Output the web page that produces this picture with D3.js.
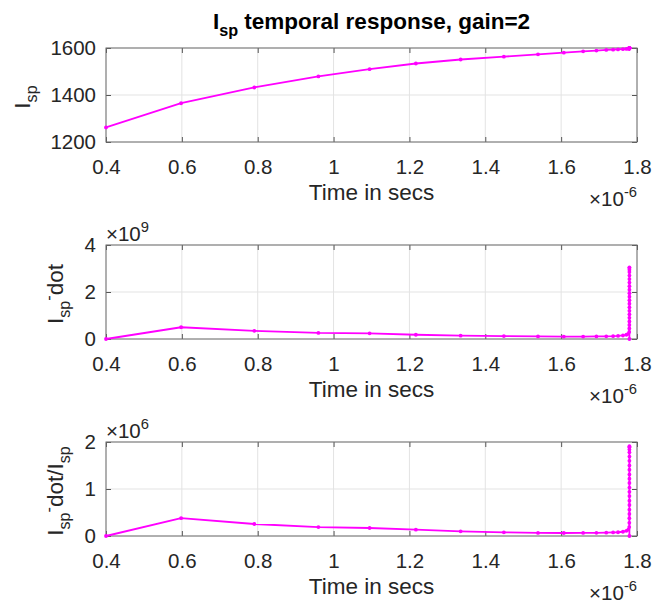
<!DOCTYPE html>
<html>
<head>
<meta charset="utf-8">
<script src="https://cdn.jsdelivr.net/npm/d3@7"></script>
<style>
body { margin: 0; background: #fff; }
svg { font-family: "Liberation Sans", Arial, Helvetica, sans-serif; }
</style>
</head>
<body>
<svg width="654" height="604"></svg>
<script>
'use strict';

//Time samples (seconds)
var timeSecs = [0.400e-6, 0.598e-6, 0.791e-6, 0.960e-6, 1.095e-6, 1.217e-6, 1.335e-6, 1.449e-6,
  1.539e-6, 1.607e-6, 1.658e-6, 1.693e-6, 1.719e-6, 1.737e-6, 1.750e-6, 1.763e-6, 1.772e-6, 1.777e-6,
  1.7795e-6, 1.7797e-6, 1.7798e-6, 1.7799e-6, 1.7799e-6, 1.7800e-6, 1.7800e-6, 1.7800e-6, 1.7800e-6,
  1.7800e-6, 1.7800e-6, 1.7800e-6, 1.7800e-6, 1.7800e-6, 1.7800e-6, 1.7800e-6, 1.7800e-6, 1.7800e-6,
  1.7800e-6, 1.7800e-6, 1.7800e-6, 1.7800e-6];

//Isp
var ispValues = [1262, 1365, 1432, 1479, 1510, 1534, 1551, 1563,
  1573, 1580, 1586, 1589, 1592, 1593, 1594, 1595, 1596, 1597,
  1597.5, 1597.7, 1597.9, 1598.0, 1598.2, 1598.3, 1598.5, 1598.6, 1598.8,
  1598.9, 1599.0, 1599.1, 1599.2, 1599.3, 1599.4, 1599.5, 1599.6, 1599.7,
  1599.8, 1599.9, 1600.0, 1600.0];

//Isp_dot
var ispDotValues = [0.00e9, 0.50e9, 0.35e9, 0.26e9, 0.24e9, 0.18e9, 0.14e9, 0.125e9,
  0.11e9, 0.105e9, 0.105e9, 0.11e9, 0.115e9, 0.12e9, 0.13e9, 0.15e9, 0.18e9, 0.22e9,
  0.30e9, 0.45e9, 0.60e9, 0.75e9, 0.90e9, 1.05e9, 1.20e9, 1.35e9, 1.50e9,
  1.65e9, 1.80e9, 1.95e9, 2.10e9, 2.25e9, 2.40e9, 2.55e9, 2.70e9, 2.85e9,
  2.95e9, 3.02e9, 3.05e9, 0.00e9];

//Isp_dot / Isp
var ispRatioValues = [0.000e6, 0.380e6, 0.255e6, 0.190e6, 0.170e6, 0.134e6, 0.100e6, 0.078e6,
  0.065e6, 0.064e6, 0.066e6, 0.068e6, 0.071e6, 0.075e6, 0.080e6, 0.090e6, 0.110e6, 0.135e6,
  0.19e6, 0.28e6, 0.38e6, 0.47e6, 0.56e6, 0.66e6, 0.75e6, 0.85e6, 0.94e6,
  1.03e6, 1.13e6, 1.22e6, 1.31e6, 1.41e6, 1.50e6, 1.60e6, 1.69e6, 1.78e6,
  1.84e6, 1.89e6, 1.91e6, 0.00e6];

//Ticks
var timeTicks = [0.4e-6, 0.6e-6, 0.8e-6, 1.0e-6, 1.2e-6, 1.4e-6, 1.6e-6, 1.8e-6];
var ispTicks = [1200, 1400, 1600];
var ispDotTicks = [0, 2e9, 4e9];
var ispRatioTicks = [0, 1e6, 2e6];

var svg = d3.select('svg');
var lineColor = '#ff00ff';
var textColor = '#262626';

var plotLeft = 106;
var plotRight = 637;
var plotHeight = 94;

var x = d3.scaleLinear().domain([0.4e-6, 1.8e-6]).range([plotLeft, plotRight]);

//Write text with sub / superscripts as tspans
function richText(textSel, parts, size) {
  var shift = 0;
  parts.forEach(function (p) {
    var target = p.sub ? size * 0.32 : p.sup ? -size * 0.42 : 0;
    textSel.append('tspan')
      .attr('dy', target - shift)
      .style('font-size', (p.sub || p.sup ? size * 0.72 : size) + 'px')
      .text(p.t);
    shift = target;
  });
}

function timeFormat(d) {
  return d3.format('~g')(+(d * 1e6).toFixed(3));
}

//Draw one subplot
function drawPanel(cfg) {
  var top = cfg.top;
  var bottom = top + plotHeight;
  var g = svg.append('g');

  var y = d3.scaleLinear().domain(cfg.yDomain).range([bottom, top]);

  //Grid
  g.selectAll('.vgrid').data(timeTicks).enter().append('line')
    .attr('x1', function (d) { return x(d); }).attr('x2', function (d) { return x(d); })
    .attr('y1', top).attr('y2', bottom)
    .attr('stroke', '#e3e3e3').attr('stroke-width', 1);
  g.selectAll('.hgrid').data(cfg.yTicks).enter().append('line')
    .attr('x1', plotLeft).attr('x2', plotRight)
    .attr('y1', function (d) { return y(d); }).attr('y2', function (d) { return y(d); })
    .attr('stroke', '#e3e3e3').attr('stroke-width', 1);

  //Axes, ticks pointing inside
  var xAxis = d3.axisBottom(x).tickValues(timeTicks).tickFormat(timeFormat).tickSizeInner(-5).tickSizeOuter(0).tickPadding(17);
  var yAxis = d3.axisLeft(y).tickValues(cfg.yTicks).tickFormat(cfg.yFormat).tickSizeInner(-5).tickSizeOuter(0).tickPadding(10);

  var axes = [
    g.append('g').attr('transform', 'translate(0,' + bottom + ')').call(xAxis),
    g.append('g').attr('transform', 'translate(' + plotLeft + ',0)').call(yAxis),
    g.append('g').attr('transform', 'translate(0,' + top + ')')
      .call(d3.axisTop(x).tickValues(timeTicks).tickFormat('').tickSizeInner(-5).tickSizeOuter(0)),
    g.append('g').attr('transform', 'translate(' + plotRight + ',0)')
      .call(d3.axisRight(y).tickValues(cfg.yTicks).tickFormat('').tickSizeInner(-5).tickSizeOuter(0))
  ];
  axes.forEach(function (a) {
    a.select('.domain').remove();
    a.selectAll('.tick line').attr('stroke', '#555');
    a.selectAll('.tick text').attr('fill', textColor).style('font-size', '20.5px');
    a.attr('font-family', null).attr('font-size', null);
  });

  //Frame
  g.append('rect')
    .attr('x', plotLeft).attr('y', top)
    .attr('width', plotRight - plotLeft).attr('height', plotHeight)
    .attr('fill', 'none').attr('stroke', '#6e6e6e').attr('stroke-width', 1);

  //Data
  var data = timeSecs.map(function (t, i) { return { t: t, v: cfg.values[i] }; });
  var line = d3.line().x(function (d) { return x(d.t); }).y(function (d) { return y(d.v); });

  g.append('path').datum(data)
    .attr('d', line)
    .attr('fill', 'none')
    .attr('stroke', lineColor)
    .attr('stroke-width', 1.8)
    .attr('stroke-linejoin', 'round');

  g.selectAll('.dot').data(data).enter().append('circle')
    .attr('cx', function (d) { return x(d.t); })
    .attr('cy', function (d) { return y(d.v); })
    .attr('r', 1.9)
    .attr('fill', lineColor);

  //X label
  g.append('text')
    .attr('x', (plotLeft + plotRight) / 2).attr('y', bottom + 58)
    .attr('text-anchor', 'middle').attr('fill', textColor)
    .style('font-size', '22.5px')
    .text('Time in secs');

  //x exponent
  var xExp = g.append('text')
    .attr('x', plotRight).attr('y', bottom + 64)
    .attr('text-anchor', 'end').attr('fill', textColor);
  richText(xExp, [{ t: '\u00d710' }, { t: '-6', sup: true }], 20.5);

  //y exponent
  if (cfg.yExp) {
    var yExp = g.append('text')
      .attr('x', plotLeft).attr('y', top - 4)
      .attr('fill', textColor);
    richText(yExp, [{ t: '\u00d710' }, { t: cfg.yExp, sup: true }], 20.5);
  }

  //Y label
  var yLabel = g.append('text')
    .attr('transform', 'translate(' + cfg.labelX + ',' + (top + plotHeight / 2 + 2) + ') rotate(-90)')
    .attr('text-anchor', 'middle').attr('fill', textColor);
  richText(yLabel, cfg.label, 22.5);
}

//Title
var title = svg.append('text')
  .attr('x', (plotLeft + plotRight) / 2).attr('y', 29)
  .attr('text-anchor', 'middle').attr('fill', '#000')
  .style('font-weight', 'bold');
richText(title, [{ t: 'I' }, { t: 'sp', sub: true }, { t: ' temporal response, gain=2' }], 22.5);

drawPanel({
  top: 48,
  values: ispValues,
  yDomain: [1200, 1600],
  yTicks: ispTicks,
  yFormat: d3.format('d'),
  labelX: 30,
  label: [{ t: 'I' }, { t: 'sp', sub: true }]
});

drawPanel({
  top: 245,
  values: ispDotValues,
  yDomain: [0, 4e9],
  yTicks: ispDotTicks,
  yFormat: function (d) { return d / 1e9; },
  yExp: '9',
  labelX: 63,
  label: [{ t: 'I' }, { t: 'sp', sub: true }, { t: '-', sup: true }, { t: 'dot' }]
});

drawPanel({
  top: 442,
  values: ispRatioValues,
  yDomain: [0, 2e6],
  yTicks: ispRatioTicks,
  yFormat: function (d) { return d / 1e6; },
  yExp: '6',
  labelX: 63,
  label: [{ t: 'I' }, { t: 'sp', sub: true }, { t: '-', sup: true }, { t: 'dot' }, { t: '/I' }, { t: 'sp', sub: true }]
});
</script>
</body>
</html>
